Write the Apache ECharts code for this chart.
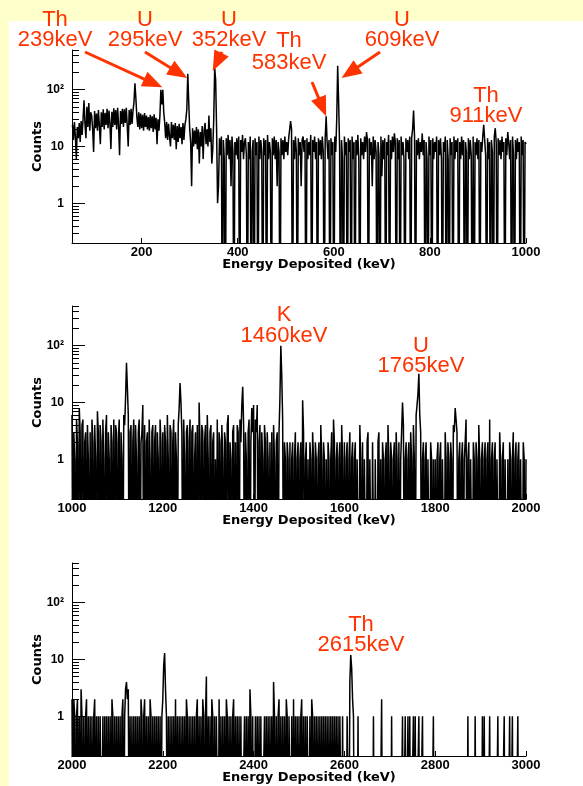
<!DOCTYPE html>
<html>
<head>
<meta charset="utf-8">
<script src="https://cdn.jsdelivr.net/npm/echarts@6.0.0/dist/echarts.min.js"></script>
<style>
  html, body { margin: 0; padding: 0; width: 583px; height: 786px; background: #ffffcc; overflow: hidden; }
  #sheet { position: absolute; left: 9px; top: 21px; right: 0; bottom: 0; background: #fff; }
  #chart { position: absolute; left: 0; top: 0; width: 583px; height: 786px; }
</style>
</head>
<body>
<div id="sheet"></div>
<div id="chart"></div>
<script>
// gamma spectrum, 2 keV bins, counts per bin (0 = empty bin); each row = 40 keV
const binWidth = 2;

const lowStart = 56;
const lowCounts = [
    24, 13, 27, 15, 6, 22, 14, 26, 12, 28, 16, 30, 65, 25, 14, 50, 22, 58, 19, 40,           // 56
    35, 20, 8, 42, 21, 38, 19, 44, 23, 11, 40, 22, 45, 20, 39, 24, 46, 21, 43, 25,           // 96
    9, 41, 22, 47, 24, 44, 20, 48, 23, 7, 42, 25, 46, 22, 45, 26, 48, 23, 10, 44,            // 136
    24, 46, 25, 43, 60, 130, 70, 33, 22, 40, 20, 38, 21, 36, 19, 39, 22, 35, 20, 33,         // 176
    19, 36, 21, 34, 18, 37, 20, 32, 11, 30, 19, 35, 100, 55, 100, 40, 26, 14, 27, 13,        // 216
    25, 15, 10, 27, 14, 24, 13, 26, 9, 23, 12, 25, 14, 22, 11, 26, 13, 24, 30, 45,           // 256
    190, 60, 20, 12, 2, 21, 10, 19, 11, 22, 9, 20, 5, 18, 10, 23, 6, 19, 26, 11,             // 296
    20, 10, 35, 12, 21, 5, 9, 30, 240, 150, 20, 1, 2, 14, 7, 15, 0, 13, 6, 0,                // 336
    14, 7, 16, 6, 13, 2, 15, 8, 0, 12, 7, 14, 6, 15, 0, 13, 8, 16, 6, 12,                    // 376
    14, 7, 0, 12, 6, 15, 0, 8, 13, 0, 14, 7, 12, 0, 15, 6, 13, 8, 0, 14,                     // 416
    7, 13, 0, 16, 6, 12, 8, 0, 14, 7, 15, 6, 13, 2, 12, 8, 0, 14, 7, 13,                     // 456
    6, 15, 8, 12, 7, 14, 13, 28, 20, 0, 13, 6, 15, 8, 0, 14, 7, 12, 2, 13,                   // 496
    15, 8, 13, 0, 14, 6, 12, 7, 16, 0, 13, 8, 15, 6, 12, 0, 14, 7, 13, 6,                    // 536
    15, 8, 0, 14, 34, 12, 6, 13, 0, 14, 7, 12, 0, 15, 8, 30, 263, 60, 10, 0,                 // 576
    13, 6, 0, 15, 7, 12, 0, 14, 8, 13, 0, 15, 6, 12, 0, 13, 7, 16, 6, 0,                     // 616
    14, 7, 12, 6, 15, 8, 18, 13, 0, 14, 7, 12, 2, 15, 6, 13, 8, 0, 12, 7,                    // 656
    0, 15, 3, 13, 6, 14, 0, 12, 7, 16, 0, 13, 6, 15, 8, 17, 12, 0, 14, 6,                    // 696
    13, 0, 15, 7, 12, 6, 0, 14, 8, 13, 6, 15, 0, 14, 20, 43, 15, 0, 13, 7,                   // 736
    14, 6, 12, 8, 17, 7, 13, 0, 12, 6, 0, 15, 7, 13, 0, 14, 6, 12, 8, 15,                    // 776
    0, 13, 7, 14, 6, 0, 12, 8, 15, 0, 13, 6, 0, 14, 7, 12, 0, 15, 6, 13,                     // 816
    8, 14, 0, 12, 6, 15, 7, 13, 0, 12, 8, 0, 14, 6, 13, 7, 0, 15, 0, 12,                     // 856
    7, 14, 6, 13, 0, 12, 8, 15, 24, 13, 7, 0, 14, 6, 12, 0, 13, 8, 0, 15,                    // 896
    21, 12, 0, 14, 7, 13, 6, 15, 8, 12, 0, 14, 7, 18, 12, 6, 13, 0, 15, 7,                   // 936
    0, 13, 6, 14, 8, 12, 0, 15, 7, 13, 0, 12, 11                                             // 976
];

const midStart = 1000;
const midCounts = [
    6, 0, 3, 1, 0, 5, 2, 0, 8, 3, 0, 4, 5, 0, 2, 3, 0, 4, 1, 0,        // 1000
    3, 0, 5, 2, 0, 4, 1, 0, 7, 3, 0, 4, 2, 0, 5, 1, 0, 3, 6, 0,        // 1040
    3, 1, 0, 4, 2, 0, 5, 0, 4, 3, 0, 2, 5, 0, 3, 1, 0, 6, 4, 12,       // 1080
    50, 18, 6, 0, 3, 4, 0, 2, 5, 0, 4, 1, 0, 3, 5, 0, 2, 3, 9, 0,      // 1120
    4, 0, 2, 3, 0, 5, 1, 0, 3, 4, 0, 2, 4, 0, 3, 1, 0, 5, 2, 0,        // 1160
    3, 0, 4, 2, 0, 6, 1, 0, 4, 3, 0, 2, 5, 0, 3, 1, 0, 4, 8, 22,       // 1200
    10, 3, 0, 5, 1, 0, 3, 4, 0, 2, 5, 0, 3, 4, 0, 1, 3, 0, 4, 0,       // 1240
    10, 2, 0, 4, 3, 0, 2, 4, 0, 6, 1, 0, 3, 4, 0, 2, 3, 0, 1, 0,       // 1280
    5, 0, 3, 2, 0, 4, 1, 0, 3, 2, 0, 4, 6, 0, 2, 1, 0, 3, 4, 0,        // 1320
    2, 0, 4, 3, 0, 5, 2, 9, 19, 4, 0, 3, 1, 0, 3, 5, 0, 2, 8, 3,       // 1360
    9, 0, 5, 3, 9, 0, 2, 4, 0, 3, 1, 0, 4, 2, 0, 3, 1, 0, 2, 0,        // 1400
    3, 0, 4, 1, 0, 2, 3, 0, 3, 12, 100, 30, 5, 0, 2, 1, 0, 2, 1, 0,    // 1440
    2, 0, 1, 2, 0, 1, 3, 0, 1, 2, 0, 1, 2, 0, 11, 3, 0, 1, 2, 0,       // 1480
    1, 0, 2, 1, 0, 3, 1, 0, 2, 1, 0, 1, 2, 0, 4, 1, 0, 2, 1, 0,        // 1520
    1, 0, 2, 1, 0, 1, 3, 0, 5, 2, 0, 1, 2, 0, 1, 2, 0, 4, 1, 0,        // 1560
    2, 0, 1, 2, 0, 1, 3, 0, 1, 2, 0, 1, 2, 0, 1, 1, 0, 4, 1, 0,        // 1600
    2, 0, 1, 1, 0, 2, 3, 0, 1, 1, 0, 2, 2, 0, 1, 1, 0, 2, 3, 0,        // 1640
    1, 0, 2, 1, 0, 1, 2, 0, 4, 1, 0, 2, 1, 0, 1, 2, 0, 3, 1, 0,        // 1680
    2, 0, 1, 3, 10, 4, 0, 1, 2, 0, 1, 2, 0, 3, 1, 0, 4, 1, 0, 6,       // 1720
    9, 14, 32, 6, 3, 0, 1, 2, 0, 1, 2, 0, 1, 1, 0, 2, 1, 0, 1, 0,      // 1760
    1, 0, 1, 2, 0, 1, 2, 0, 1, 1, 0, 3, 1, 0, 2, 1, 0, 2, 1, 0,        // 1800
    4, 3, 8, 5, 3, 0, 1, 2, 0, 1, 2, 0, 1, 2, 5, 0, 1, 2, 0, 1,        // 1840
    1, 0, 2, 1, 0, 2, 1, 0, 4, 1, 0, 1, 2, 0, 1, 2, 0, 1, 2, 0,        // 1880
    5, 0, 1, 2, 0, 1, 2, 0, 1, 1, 0, 3, 1, 0, 1, 2, 0, 1, 1, 0,        // 1920
    1, 0, 2, 1, 0, 1, 3, 0, 1, 2, 0, 1, 2, 0, 1, 1, 0, 2, 1, 0,        // 1960
    1                                                                  // 2000
];

const highStart = 2000;
const highCounts = [
    2, 0, 2, 1, 0, 1, 2, 0, 1, 0, 3, 1, 0, 1, 0, 1, 2, 0, 1, 0,        // 2000
    1, 0, 1, 0, 1, 2, 0, 1, 0, 1, 0, 1, 1, 0, 1, 0, 1, 0, 1, 0,        // 2040
    1, 0, 1, 0, 2, 1, 0, 1, 0, 1, 0, 1, 0, 1, 0, 1, 2, 0, 1, 3,        // 2080
    4, 2, 3, 0, 1, 0, 1, 0, 1, 0, 1, 0, 1, 0, 1, 0, 2, 1, 0, 1,        // 2120
    2, 0, 1, 0, 1, 0, 2, 1, 0, 1, 0, 1, 0, 1, 0, 1, 0, 1, 0, 1,        // 2160
    2, 8, 13, 3, 1, 0, 1, 0, 1, 0, 1, 0, 1, 0, 2, 0, 1, 0, 1, 0,       // 2200
    1, 0, 1, 0, 1, 0, 2, 1, 0, 1, 0, 1, 0, 1, 0, 1, 0, 1, 2, 0,        // 2240
    1, 0, 1, 0, 2, 1, 0, 1, 5, 0, 1, 0, 1, 0, 2, 1, 0, 1, 0, 1,        // 2280
    1, 0, 2, 0, 1, 0, 1, 0, 1, 0, 2, 1, 0, 1, 0, 1, 0, 1, 2, 0,        // 2320
    1, 0, 1, 0, 1, 0, 1, 0, 0, 0, 1, 0, 1, 0, 1, 0, 3, 1, 0, 1,        // 2360
    0, 0, 1, 0, 1, 0, 1, 0, 1, 0, 0, 0, 1, 0, 1, 0, 1, 0, 1, 0,        // 2400
    1, 0, 4, 1, 0, 1, 0, 1, 2, 0, 1, 0, 1, 0, 1, 0, 2, 1, 0, 1,        // 2440
    1, 0, 1, 0, 2, 0, 1, 0, 1, 0, 1, 0, 1, 2, 0, 1, 0, 1, 0, 1,        // 2480
    1, 0, 1, 0, 2, 1, 0, 1, 0, 1, 0, 1, 0, 1, 0, 1, 0, 1, 0, 1,        // 2520
    0, 1, 0, 1, 0, 1, 0, 1, 0, 1, 0, 1, 0, 1, 0, 1, 1, 0, 1, 0,        // 2560
    0, 0, 0, 1, 1, 0, 4, 12, 7, 2, 1, 0, 0, 0, 0, 1, 0, 0, 0, 0,       // 2600
    0, 0, 0, 0, 0, 0, 0, 0, 0, 0, 0, 0, 1, 0, 0, 0, 0, 0, 0, 0,        // 2640
    0, 2, 0, 0, 0, 0, 0, 0, 0, 0, 0, 0, 1, 0, 0, 0, 0, 0, 0, 0,        // 2680
    0, 0, 0, 0, 1, 0, 0, 1, 0, 0, 1, 0, 1, 0, 0, 0, 1, 0, 1, 0,        // 2720
    0, 0, 1, 0, 0, 0, 1, 0, 0, 0, 0, 0, 0, 0, 0, 0, 0, 0, 1, 0,        // 2760
    0, 0, 0, 0, 0, 0, 0, 0, 0, 0, 0, 0, 0, 0, 0, 0, 0, 0, 0, 0,        // 2800
    0, 0, 0, 0, 0, 0, 0, 0, 0, 0, 0, 0, 0, 0, 0, 0, 1, 0, 0, 0,        // 2840
    0, 0, 0, 0, 1, 0, 0, 0, 0, 0, 0, 0, 1, 0, 1, 0, 0, 0, 0, 0,        // 2880
    1, 0, 0, 0, 0, 0, 0, 0, 0, 1, 0, 0, 0, 0, 0, 0, 1, 0, 0, 0,        // 2920
    0, 0, 1, 0, 0, 1, 0, 0, 0, 0, 0, 1, 0, 0, 0, 0, 0, 0, 0, 0,        // 2960
    0                                                                  // 3000
];

const xRanges = [[55, 1000], [1000, 2000], [2000, 3000]];
const xTicks = [
    [200, 400, 600, 800, 1000],
    [1000, 1200, 1400, 1600, 1800, 2000],
    [2000, 2200, 2400, 2600, 2800, 3000]
];
const yRange = [0.2, 500];
const yMajor = [1, 10, 100];
const yMinor = [0.2, 0.3, 0.4, 0.5, 0.6, 0.7, 0.8, 0.9, 2, 3, 4, 5, 6, 7, 8, 9,
    20, 30, 40, 50, 60, 70, 80, 90, 200, 300, 400, 500];

// peak labels
const tagIsotope = ["Th", "U", "U", "Th", "U", "Th", "K", "U", "Th"];
const tagEnergy = ["239keV", "295keV", "352keV", "583keV", "609keV", "911keV", "1460keV", "1765keV", "2615keV"];
// arrow tips in data coords: [energy, counts]
const arrowTips = [[243, 110], [295, 160], [348, 214], [584, 34], [616, 160]];

// ---- layout ----
const gridTops = [50, 306, 563];
const tagPos = [[55, 20, 40], [145, 20, 40], [229, 20, 40], [289, 41, 63], [402, 20, 40],
    [486, 96, 116], [284, 315, 336], [421, 346, 366], [361, 625, 645]];
const arrowTails = [[85, 52], [145, 52], [222, 52], [312, 82], [380, 52]];
const red = "#ff3300";
const emptyBin = 1e-3;   // empty bins drop below the log axis

function toPoints(start, counts) {
    return counts.map((c, i) => [start + i * binWidth, c > 0 ? c : emptyBin]);
}
const spectra = [toPoints(lowStart, lowCounts), toPoints(midStart, midCounts), toPoints(highStart, highCounts)];

const labelFont = { fontFamily: "Liberation Sans", fontWeight: "bold", color: "#000" };
const grid = [], xAxis = [], yAxis = [], series = [];

spectra.forEach((pts, p) => {
    grid.push({ left: 72, top: gridTops[p], width: 454, height: 193 });
    xAxis.push({
        type: "value", gridIndex: p, min: xRanges[p][0], max: xRanges[p][1],
        axisLine: { lineStyle: { color: "#000", width: 1 } },
        axisTick: { inside: true, length: 5, customValues: xTicks[p], lineStyle: { color: "#000" } },
        axisLabel: { ...labelFont, fontSize: 13, margin: 3, customValues: xTicks[p], formatter: v => String(v) },
        splitLine: { show: false },
        name: "Energy Deposited (keV)", nameLocation: "middle", nameGap: 15, nameMoveOverlap: false,
        nameTextStyle: { fontFamily: "DejaVu Sans", fontWeight: "bold", fontSize: 13, color: "#000", padding: [0, 0, 0, 20] }
    });
    yAxis.push({
        type: "log", logBase: 10, gridIndex: p, position: "left", min: yRange[0], max: yRange[1],
        axisLine: { show: true, lineStyle: { color: "#000", width: 1 } },
        axisTick: { inside: true, length: 13, customValues: yMajor, lineStyle: { color: "#000" } },
        axisLabel: {
            ...labelFont, fontSize: 12, margin: 8, customValues: yMajor,
            formatter: v => (v >= 100 ? "10²" : String(Math.round(v)))
        },
        splitLine: { show: false },
        name: "Counts", nameLocation: "middle", nameGap: 28, nameMoveOverlap: false,
        nameTextStyle: { fontFamily: "DejaVu Sans", fontWeight: "bold", fontSize: 13, color: "#000" }
    });
    yAxis.push({
        type: "log", logBase: 10, gridIndex: p, position: "left", min: yRange[0], max: yRange[1],
        axisLine: { show: false },
        axisTick: { inside: true, length: 7, customValues: yMinor, lineStyle: { color: "#000" } },
        axisLabel: { show: false },
        splitLine: { show: false }
    });
    series.push({
        type: "line", xAxisIndex: p, yAxisIndex: p * 2, data: pts,
        showSymbol: false, clip: true, animation: false,
        lineStyle: { color: "#000", width: 1.5 }
    });
});

const chart = echarts.init(document.getElementById("chart"));
chart.setOption({ animation: false, grid, xAxis, yAxis, series });

// labels and arrows
let marks = [];
tagIsotope.forEach((iso, i) => {
    let [cx, y1, y2] = tagPos[i];
    [[iso, y1], [tagEnergy[i], y2]].forEach(([t, y]) => {
        marks.push({
            type: "text", x: cx, y: y, z: 100,
            style: { text: t, fill: red, font: '22px "Liberation Sans"', align: "center", verticalAlign: "middle" }
        });
    });
});
arrowTips.forEach((tipData, i) => {
    let tip = chart.convertToPixel({ xAxisIndex: 0, yAxisIndex: 0 }, tipData);
    let [tx, ty] = arrowTails[i];
    let dx = tip[0] - tx, dy = tip[1] - ty;
    let len = Math.sqrt(dx * dx + dy * dy);
    let ux = dx / len, uy = dy / len;
    let headLen = 20, headW = 8;
    let bx = tip[0] - ux * headLen, by = tip[1] - uy * headLen;
    marks.push({
        type: "line", z: 100,
        shape: { x1: tx, y1: ty, x2: bx + ux * 2, y2: by + uy * 2 },
        style: { stroke: red, lineWidth: 3 }
    });
    marks.push({
        type: "polygon", z: 100,
        shape: { points: [tip, [bx - uy * headW, by + ux * headW], [bx + uy * headW, by - ux * headW]] },
        style: { fill: red }
    });
});
chart.setOption({ graphic: marks });
</script>
</body>
</html>
